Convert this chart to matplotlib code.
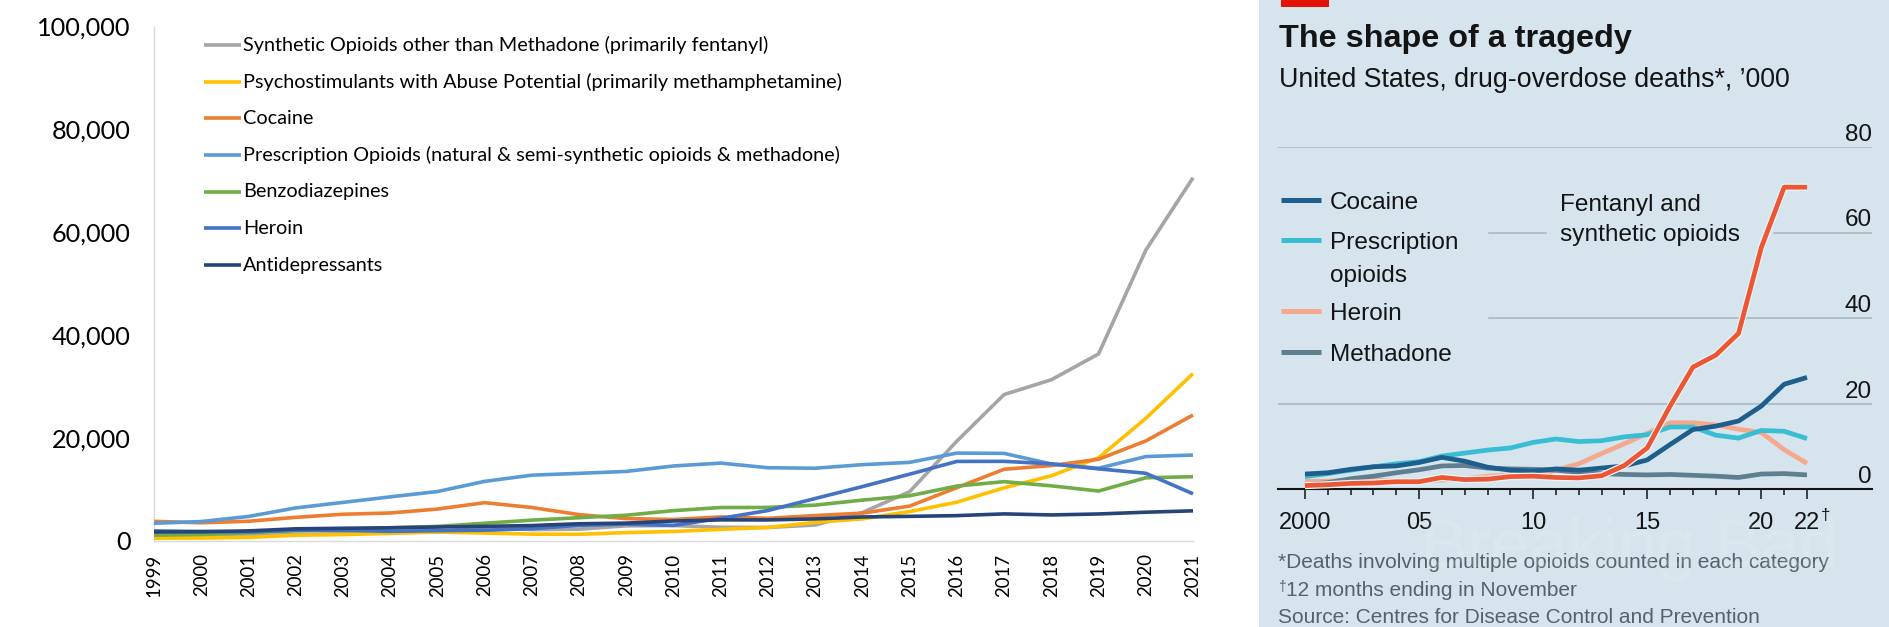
import matplotlib
matplotlib.use("Agg")
import matplotlib.pyplot as plt
from matplotlib.lines import Line2D
from matplotlib.patches import Rectangle
import matplotlib.patheffects as pe
import matplotlib.transforms as mtransforms

plt.rcParams['font.family'] = ['Lato', 'DejaVu Sans']

W, H = 1889, 627

# ---------------- Left chart data (deaths, 1999-2021) ----------------
years_left = list(range(1999, 2022))
left_names = [
    "Synthetic Opioids other than Methadone (primarily fentanyl)",
    "Psychostimulants with Abuse Potential (primarily methamphetamine)",
    "Cocaine",
    "Prescription Opioids (natural & semi-synthetic opioids & methadone)",
    "Benzodiazepines",
    "Heroin",
    "Antidepressants",
]
synthetic = [730, 782, 957, 1295, 1400, 1664, 1742, 2707, 2213, 2306, 2946, 3007,
             2666, 2628, 3105, 5544, 9580, 19413, 28466, 31335, 36359, 56516, 70601]
psychostim = [547, 578, 705, 1110, 1254, 1479, 1748, 1550, 1329, 1301, 1632, 1854,
              2266, 2635, 3627, 4298, 5716, 7542, 10333, 12676, 16167, 23837, 32537]
cocaine_l = [3822, 3544, 3833, 4599, 5199, 5443, 6208, 7448, 6512, 5129, 4350, 4183,
             4681, 4404, 4944, 5415, 6784, 10375, 13942, 14666, 15883, 19447, 24486]
rx_opioids = [3442, 3785, 4770, 6431, 7500, 8577, 9612, 11589, 12796, 13149, 13523, 14583,
              15140, 14240, 14145, 14838, 15281, 17087, 17029, 14975, 14139, 16416, 16706]
benzos = [1135, 1298, 1594, 2003, 2248, 2585, 2834, 3451, 4049, 4528, 5014, 5902,
          6507, 6524, 6973, 7945, 8791, 10684, 11537, 10724, 9711, 12290, 12499]
heroin_l = [1960, 1842, 1779, 2089, 2080, 1878, 2009, 2088, 2399, 3041, 3278, 3036,
            4397, 5925, 8257, 10574, 12989, 15469, 15482, 14996, 14019, 13165, 9173]
antidep = [1749, 1810, 1964, 2365, 2478, 2564, 2720, 2852, 3002, 3349, 3479, 3889,
           4106, 4095, 4293, 4672, 4789, 4932, 5269, 5064, 5254, 5597, 5863]
left_series = [synthetic, psychostim, cocaine_l, rx_opioids, benzos, heroin_l, antidep]
left_colors = ['#A5A5A5', '#FFC000', '#ED7D31', '#5B9BD5', '#70AD47', '#4472C4', '#264478']
left_yticks = [0, 20000, 40000, 60000, 80000, 100000]

# ---------------- Right chart data ('000, 2000-2022) ----------------
years_right = list(range(2000, 2023))
right_names = ["Cocaine", "Prescription\nopioids", "Heroin", "Methadone"]
r_cocaine = [3.5, 3.8, 4.6, 5.2, 5.4, 6.2, 7.4, 6.5, 5.1, 4.4, 4.2, 4.7, 4.4, 4.9, 5.4,
             6.8, 10.4, 13.9, 14.7, 15.9, 19.4, 24.5, 26.1]
r_rx = [2.9, 3.6, 4.4, 5.2, 5.9, 6.4, 7.7, 8.4, 9.1, 9.6, 10.9, 11.7, 11.1, 11.3, 12.2,
        12.7, 14.5, 14.5, 12.6, 11.9, 13.7, 13.5, 11.8]
r_heroin = [1.8, 1.8, 2.1, 2.1, 1.9, 2.0, 2.1, 2.4, 3.0, 3.3, 3.0, 4.4, 5.9, 8.3, 10.6,
            13.0, 15.5, 15.5, 15.0, 14.0, 13.2, 9.2, 6.0]
r_methadone = [1.0, 1.5, 2.4, 3.0, 3.8, 4.5, 5.4, 5.5, 4.9, 4.7, 4.6, 4.4, 3.9, 3.6, 3.4,
               3.3, 3.4, 3.2, 3.0, 2.7, 3.5, 3.6, 3.3]
r_fentanyl = [0.8, 1.0, 1.3, 1.4, 1.7, 1.7, 2.7, 2.2, 2.3, 2.9, 3.0, 2.7, 2.6, 3.1, 5.5,
              9.6, 19.4, 28.5, 31.3, 36.4, 56.5, 70.6, 70.6]
right_series = [r_cocaine, r_rx, r_heroin, r_methadone]
right_colors = ['#1d5e8c', '#38bdd2', '#f6a88e', '#5f7e90']
fent_color = '#ec5635'
right_yticks = [0, 20, 40, 60, 80]
right_major = [2000, 2005, 2010, 2015, 2020, 2022]
right_major_labels = ["2000", "05", "10", "15", "20", "22"]

BG = '#d6e4ed'
DARK = '#141414'
REG = ['Liberation Sans', 'DejaVu Sans']

fig = plt.figure(figsize=(W / 100, H / 100), dpi=100)
fig.patch.set_facecolor('white')


def add_ax(x0, y0, x1, y1):
    return fig.add_axes([x0 / W, 1 - y1 / H, (x1 - x0) / W, (y1 - y0) / H])


def fx(x):
    return x / W


def fy(y):
    return 1 - y / H


# ======================= LEFT CHART =======================
axL = add_ax(154, 26.5, 1193, 541)
for vals, col in zip(left_series, left_colors):
    axL.plot(years_left, vals, color=col, lw=2.6, solid_capstyle='butt',
             solid_joinstyle='round', clip_on=False, zorder=3)
axL.set_xlim(1999, 2021)
axL.set_ylim(0, 100000)
for s in ['top', 'right']:
    axL.spines[s].set_visible(False)
for s in ['left', 'bottom']:
    axL.spines[s].set_color('#D9D9D9')
    axL.spines[s].set_linewidth(1.0)
axL.set_yticks(left_yticks)
axL.set_yticklabels([f"{v:,}" for v in left_yticks])
axL.tick_params(axis='y', length=0, pad=17, labelsize=18.2, labelcolor='black')
axL.set_xticks(years_left)
axL.set_xticklabels([str(y) for y in years_left], rotation=90)
axL.tick_params(axis='x', length=0, pad=9, labelsize=13.4, labelcolor='black')

# legend (Excel style, inside plot area)
for i, (name, col) in enumerate(zip(left_names, left_colors)):
    yy = 45 + i * 36.67
    fig.add_artist(Line2D([fx(204), fx(241)], [fy(yy), fy(yy)], color=col, lw=2.6,
                          solid_capstyle='butt'))
    fig.text(fx(243), fy(yy), name, fontsize=14.3, va='center', ha='left', color='black')

# ======================= RIGHT PANEL =======================
fig.add_artist(Rectangle((fx(1259), 0), 1 - fx(1259), 1, transform=fig.transFigure,
                         facecolor=BG, edgecolor='none', zorder=0))
fig.add_artist(Rectangle((fx(1281), fy(7)), fx(1329) - fx(1281), 7 / H,
                         transform=fig.transFigure, facecolor='#e3120b',
                         edgecolor='none', zorder=1))
fig.text(fx(1279), fy(47), "The shape of a tragedy", fontsize=23.3, weight='bold',
         family=REG, va='baseline', ha='left', color=DARK)
fig.text(fx(1279), fy(87), "United States, drug-overdose deaths*, \u2019000", fontsize=19.3,
         family=REG, va='baseline', ha='left', color=DARK)

axR = add_ax(1278, 147, 1872, 489)
axR.set_facecolor('none')
axR.set_xlim(1998.817, 2024.85)
axR.set_ylim(0, 80)

# gridlines
grid_kw = dict(color='#a6b5bf', lw=1.1, zorder=1)
axR.axhline(20, 0, 1, **grid_kw)
axR.axhline(40, 0.355, 1, **grid_kw)
axR.axhline(60, 0.355, 0.451, **grid_kw)
axR.axhline(60, 0.835, 1, **grid_kw)
axR.axhline(80, 0, 1, **grid_kw)

order = [2, 3, 1, 0]
for idx in order:
    axR.plot(years_right, right_series[idx], color=right_colors[idx], lw=3.4,
             solid_capstyle='butt', solid_joinstyle='round', clip_on=False, zorder=3)
axR.plot(years_right, r_fentanyl, color=fent_color, lw=3.4, solid_capstyle='butt',
         solid_joinstyle='round', clip_on=False, zorder=4,
         path_effects=[pe.Stroke(linewidth=5.2, foreground='#eef4f7'), pe.Normal()])

for s in ['top', 'right', 'left']:
    axR.spines[s].set_visible(False)
axR.spines['bottom'].set_color(DARK)
axR.spines['bottom'].set_linewidth(1.5)
axR.set_yticks([])
axR.set_xticks(right_major)
axR.set_xticklabels(right_major_labels)
axR.set_xticks(years_right, minor=True)
axR.tick_params(axis='x', which='major', length=7.2, width=1.1, color=DARK, pad=9.5,
                labelsize=17, labelcolor=DARK)
axR.tick_params(axis='x', which='minor', length=4.3, width=1.1, color=DARK)
for lbl in axR.get_xticklabels():
    lbl.set_family(REG)
fig.text(fx(1821), fy(508), "\u2020", fontsize=12, family=REG, va='top', ha='left', color=DARK)

ytrans = mtransforms.offset_copy(axR.get_yaxis_transform(), fig=fig, x=0, y=6, units='dots')
for v in right_yticks:
    axR.text(1.0, v, str(v), transform=ytrans, ha='right', va='baseline', fontsize=17.5,
             family=REG, color=DARK)

# legend
leg_y = [200, 240, 311, 352]
for name, col, yy in zip(right_names, right_colors, leg_y):
    fig.add_artist(Line2D([fx(1281), fx(1321)], [fy(yy), fy(yy)], color=col, lw=3.6,
                          solid_capstyle='butt'))
    for j, part in enumerate(name.split("\n")):
        fig.text(fx(1330), fy(yy + 9 + j * 33), part, fontsize=17.6, family=REG,
                 va='baseline', ha='left', color=DARK)

fig.text(fx(1560), fy(211), "Fentanyl and", fontsize=17.6, family=REG, va='baseline',
         ha='left', color=DARK)
fig.text(fx(1560), fy(241), "synthetic opioids", fontsize=17.6, family=REG, va='baseline',
         ha='left', color=DARK)

# footnotes
FOOT = '#56626b'
fig.text(fx(1278), fy(568), "*Deaths involving multiple opioids counted in each category",
         fontsize=15, family=REG, va='baseline', ha='left', color=FOOT)
fig.text(fx(1278), fy(580), "\u2020", fontsize=10, family=REG, va='top', ha='left', color=FOOT)
fig.text(fx(1286), fy(596), "12 months ending in November",
         fontsize=15, family=REG, va='baseline', ha='left', color=FOOT)
fig.text(fx(1278), fy(623), "Source: Centres for Disease Control and Prevention",
         fontsize=15, family=REG, va='baseline', ha='left', color=FOOT)

# faint watermark
fig.text(fx(1421), fy(567), "Breaking Bad", fontsize=50, family=REG, va='baseline',
         ha='left', color='white', alpha=0.14)

fig.savefig("out.png", dpi=100)
